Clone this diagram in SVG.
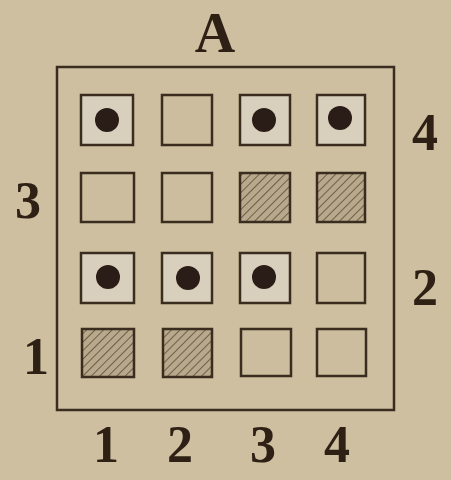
<svg xmlns="http://www.w3.org/2000/svg" width="451" height="480" viewBox="0 0 451 480">
<defs>
<pattern id="hatch" patternUnits="userSpaceOnUse" width="6" height="6" patternTransform="rotate(45)">
<rect width="6" height="6" fill="#b8a98c"/>
<line x1="0" y1="0" x2="0" y2="6" stroke="#5a4a38" stroke-width="1.6"/>
</pattern>
<style>
.bg{fill:#cdbf9f}
.frame{fill:none;stroke:#3a2c1e;stroke-width:2.5}
.cell{fill:#cbbd9d;stroke:#3a2c1e;stroke-width:2.5}
.lit{fill:#d8d0bc;stroke:#3a2c1e;stroke-width:2.5}
.hat{fill:url(#hatch);stroke:#3a2c1e;stroke-width:2.5}
.dot{fill:#2a1c16}
.lbl{font-family:"Liberation Serif","DejaVu Serif",serif;font-weight:bold;fill:#2e2014;text-anchor:middle}
</style>
</defs>
<rect class="bg" width="451" height="480"/>
<text class="lbl" x="215" y="52" font-size="56">A</text>
<g id="frame"><rect class="frame" x="57" y="67" width="337" height="343"/></g>
<g id="r4c1"><rect class="lit" x="81" y="95" width="52" height="50"/><circle class="dot" cx="107" cy="120" r="12"/></g>
<g id="r4c2"><rect class="cell" x="162" y="95" width="50" height="50"/></g>
<g id="r4c3"><rect class="lit" x="240" y="95" width="50" height="50"/><circle class="dot" cx="264" cy="120" r="12"/></g>
<g id="r4c4"><rect class="lit" x="317" y="95" width="48" height="50"/><circle class="dot" cx="340" cy="118" r="12"/></g>
<g id="r3c1"><rect class="cell" x="81" y="173" width="53" height="49"/></g>
<g id="r3c2"><rect class="cell" x="162" y="173" width="50" height="49"/></g>
<g id="r3c3"><rect class="hat" x="240" y="173" width="50" height="49"/></g>
<g id="r3c4"><rect class="hat" x="317" y="173" width="48" height="49"/></g>
<g id="r2c1"><rect class="lit" x="81" y="253" width="53" height="50"/><circle class="dot" cx="108" cy="277" r="12"/></g>
<g id="r2c2"><rect class="lit" x="162" y="253" width="50" height="50"/><circle class="dot" cx="188" cy="278" r="12"/></g>
<g id="r2c3"><rect class="lit" x="240" y="253" width="50" height="50"/><circle class="dot" cx="264" cy="277" r="12"/></g>
<g id="r2c4"><rect class="cell" x="317" y="253" width="48" height="50"/></g>
<g id="r1c1"><rect class="hat" x="82" y="329" width="52" height="48"/></g>
<g id="r1c2"><rect class="hat" x="163" y="329" width="49" height="48"/></g>
<g id="r1c3"><rect class="cell" x="241" y="329" width="50" height="47"/></g>
<g id="r1c4"><rect class="cell" x="317" y="329" width="49" height="47"/></g>
<g id="labels">
<text class="lbl" x="425" y="150" font-size="52">4</text>
<text class="lbl" x="425" y="305" font-size="52">2</text>
<text class="lbl" x="28" y="218" font-size="52">3</text>
<text class="lbl" x="36" y="374" font-size="52">1</text>
<text class="lbl" x="106" y="462" font-size="52">1</text>
<text class="lbl" x="180" y="462" font-size="52">2</text>
<text class="lbl" x="263" y="462" font-size="52">3</text>
<text class="lbl" x="337" y="462" font-size="52">4</text>
</g>
</svg>
